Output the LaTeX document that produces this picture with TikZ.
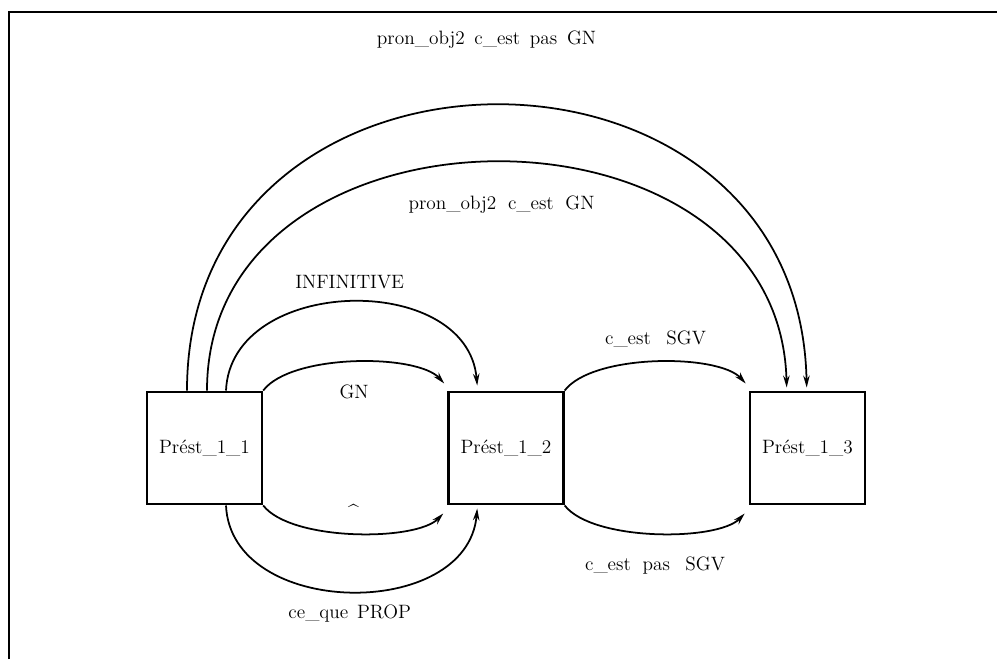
\documentclass[tikz,border=0pt]{standalone}
\usetikzlibrary{arrows.meta, positioning}

\newcommand{\gap}[1][0.6em]{\hspace{#1}}

\begin{document}
\begin{tikzpicture}[
	etat/.style={rectangle, draw, line width=1.4pt, minimum width=2.3cm, minimum height=2.25cm, font=\fontsize{11}{13}\selectfont},
	trans/.style={-{Stealth[length=2.4mm, width=1.3mm]}, line width=1pt},
	lbl/.style={font=\fontsize{11}{13}\selectfont, inner sep=0pt},
	node distance=3.68cm
]
	\useasboundingbox (0,0) rectangle (19.94,13.18);
	% Cadre
	\draw[line width=1.4pt] (0.18,0) -- (0.18,12.94) -- (20.2,12.94);

	% Etats
	\node[etat] (p1) at (4.09,4.22) {Prést\_1\_1};
	\node[etat, right=of p1] (p2) {Prést\_1\_2};
	\node[etat, right=of p2] (p3) {Prést\_1\_3};

	% Transitions p1 -> p2
	\draw[trans] (p1.north east) .. controls +(0.56,0.74) and +(-0.54,0.6) .. ([shift={(-0.06,0.14)}]p2.north west)
		node[lbl, midway, yshift=-0.6cm] (lgn) {GN};
	\draw[trans] (p1.south east) .. controls +(0.56,-0.72) and +(-0.54,-0.56) .. ([shift={(-0.08,-0.16)}]p2.south west)
		node[lbl, midway, yshift=0.44cm] (lvide) {\^{}};
	\draw[trans] ([xshift=0.43cm]p1.north) .. controls +(0.1,2.3) and +(-0.2,2.3) .. ([shift={(0.6,0.1)}]p2.north west)
		node[lbl, midway, yshift=0.4cm] (linf) {INFINITIVE};
	\draw[trans] ([xshift=0.43cm]p1.south) .. controls +(0.1,-2.26) and +(-0.2,-2.26) .. ([shift={(0.6,-0.06)}]p2.south west)
		node[lbl, midway, yshift=-0.44cm] (lprop) {ce\_que\gap[0.45em]PROP};

	% Transitions p2 -> p3
	\draw[trans] (p2.north east) .. controls +(0.56,0.74) and +(-0.54,0.6) .. ([shift={(-0.06,0.14)}]p3.north west)
		node[lbl, midway, yshift=0.46cm] (lsgv) {c\_est\gap[0.8em]SGV};
	\draw[trans] (p2.south east) .. controls +(0.56,-0.72) and +(-0.54,-0.56) .. ([shift={(-0.08,-0.16)}]p3.south west)
		node[lbl, midway, yshift=-0.64cm] (lpsgv) {c\_est\gap pas\gap[0.8em]SGV};

	% Transitions p1 -> p3
	\draw[trans] ([xshift=0.05cm]p1.north) .. controls +(0,6.05) and +(-0.15,6.05) .. ([shift={(0.76,0.06)}]p3.north west)
		node[lbl, midway, shift={(0.15,-0.86)}] (lgn2) {pron\_obj2\gap c\_est\gap GN};
	\draw[trans] ([xshift=-0.35cm]p1.north) .. controls +(0,7.57) and +(-0.15,7.57) .. ([shift={(1.16,0.06)}]p3.north west)
		node[lbl, midway, shift={(-0.15,1.3)}] (lpgn2) {pron\_obj2\gap[0.5em]c\_est\gap[0.5em]pas\gap[0.5em]GN};
\end{tikzpicture}
\end{document}
